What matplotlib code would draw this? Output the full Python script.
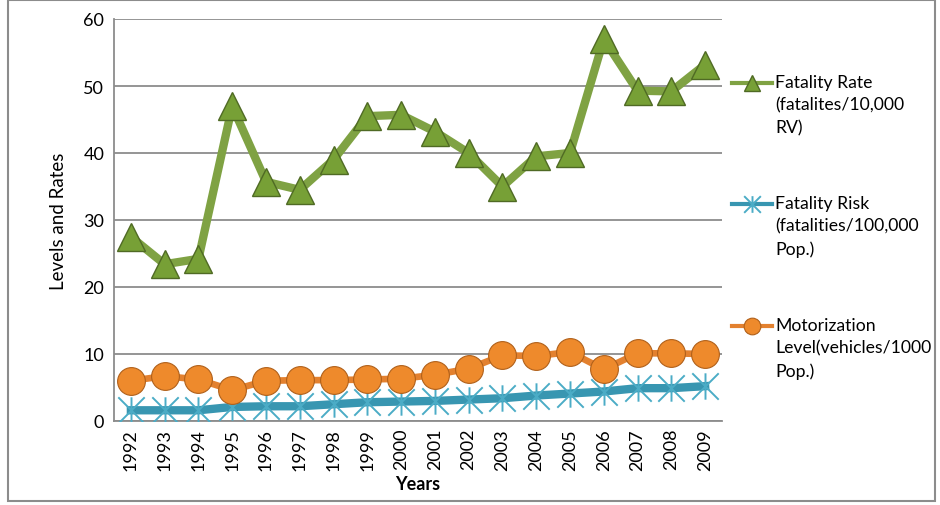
import matplotlib.pyplot as plt
from matplotlib.lines import Line2D
from matplotlib.patches import Rectangle
from matplotlib.path import Path

# ===== 0. basic settings ===== #
plt.rcParams['font.family'] = ['Lato', 'DejaVu Sans']

W, H = 940, 506

def fx(px):
    return px / W

def fy(py):
    return 1 - py / H

# ===== 1. data ===== #
years = ['1992', '1993', '1994', '1995', '1996', '1997', '1998', '1999', '2000',
         '2001', '2002', '2003', '2004', '2005', '2006', '2007', '2008', '2009']

fatality_rate = [27.5, 23.4, 24.2, 47.0, 35.7, 34.5, 39.0, 45.5, 45.7,
                 43.2, 40.0, 35.0, 39.5, 40.0, 57.0, 49.3, 49.2, 53.2]

fatality_risk = [1.6, 1.6, 1.6, 2.1, 2.2, 2.2, 2.5, 2.8, 2.9,
                 3.0, 3.2, 3.4, 3.8, 4.1, 4.4, 4.9, 4.9, 5.2]

motorization = [6.0, 6.7, 6.2, 4.6, 6.0, 6.1, 6.1, 6.2, 6.3,
                6.9, 7.8, 9.8, 9.7, 10.3, 7.7, 10.1, 10.1, 10.0]

yticks = [0, 10, 20, 30, 40, 50, 60]

labels = ['Fatality Rate\n(fatalites/10,000\nRV)',
          'Fatality Risk\n(fatalities/100,000\nPop.)',
          'Motorization\nLevel(vehicles/1000\nPop.)']

# ===== 2. styles ===== #
# excel style star: vertical bar plus an X
star = Path([(0, -1), (0, 1), (-1, -1), (1, 1), (-1, 1), (1, -1)],
            [Path.MOVETO, Path.LINETO, Path.MOVETO, Path.LINETO, Path.MOVETO, Path.LINETO])

green_line, green_face, green_edge = '#7fa243', '#77a036', '#4f6a24'
blue_line, blue_mark = '#3896b1', '#4bacc6'
orange_line, orange_face, orange_edge = '#e3812f', '#ee8a2c', '#b0601a'

styles = [
    dict(color=green_line, lw=6, marker='^', ms=20, mfc=green_face, mec=green_edge, mew=1),
    dict(color=blue_line, lw=6, marker=star, ms=19, mfc='none', mec=blue_mark, mew=1.4),
    dict(color=orange_line, lw=4.8, marker='o', ms=20, mfc=orange_face, mec=orange_edge, mew=0.8),
]

# ===== 3. plot ===== #
fig = plt.figure(figsize=(W / 100, H / 100), dpi=100)
ax = fig.add_axes([fx(114), fy(422), fx(722) - fx(114), fy(20) - fy(422)])

x = list(range(len(years)))
ax.plot(x, fatality_risk, zorder=3, **styles[1])
ax.plot(x, motorization, zorder=4, **styles[2])
ax.plot(x, fatality_rate, zorder=5, **styles[0])

ax.set_xlim(-0.5, len(years) - 0.5)
ax.set_ylim(0, 60)
ax.set_yticks(yticks)
ax.set_xticks(x)
ax.set_xticklabels(years, rotation=90, fontsize=13)
ax.tick_params(axis='y', labelsize=13, length=0, pad=7)
ax.tick_params(axis='x', length=0, pad=5)

ax.grid(axis='y', color='#8c8c8c', lw=1.3)
ax.set_axisbelow(True)
for side in ['top', 'right']:
    ax.spines[side].set_visible(False)
for side in ['left', 'bottom']:
    ax.spines[side].set_color('#8c8c8c')
    ax.spines[side].set_linewidth(1.3)

ax.set_xlabel('Years', fontsize=13, fontweight='bold', labelpad=4)
ax.set_ylabel('Levels and Rates', fontsize=13.5, labelpad=12)

# ===== 4. legend (drawn by hand) ===== #
legend_y = [84, 205, 327]
for st, lab, ly in zip(styles, labels, legend_y):
    fig.add_artist(Line2D([fx(732), fx(772)], [fy(ly), fy(ly)], transform=fig.transFigure,
                          color=st['color'], lw=3))
    fig.add_artist(Line2D([fx(752)], [fy(ly)], transform=fig.transFigure, ls='none',
                          marker=st['marker'], ms=12, mfc=st['mfc'], mec=st['mec'], mew=st['mew']))
    fig.text(fx(775), fy(ly - 9), lab, fontsize=12.7, va='top', ha='left', linespacing=1.5)

# outer frame
fig.add_artist(Rectangle((fx(8), fy(502)), fx(935) - fx(8), fy(1) - fy(502),
                         transform=fig.transFigure, fill=False, ec='#8c8c8c', lw=1.5))

fig.savefig('out.png', dpi=100)
